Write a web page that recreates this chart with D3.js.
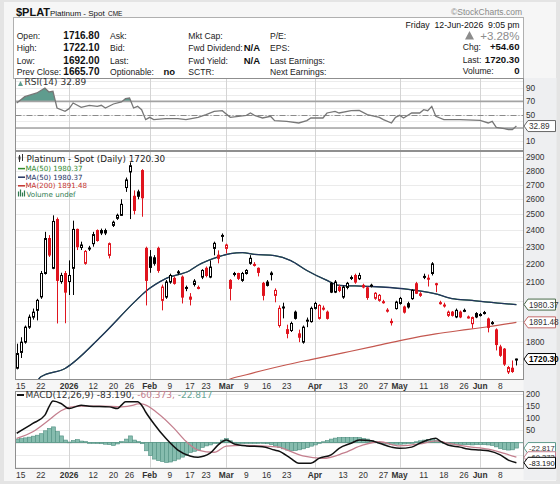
<!DOCTYPE html>
<html><head><meta charset="utf-8">
<script src="https://cdn.jsdelivr.net/npm/d3@7"></script>
<style>body{margin:0;background:#fff}svg{display:block}</style>
</head><body><svg id="c" width="560" height="484"></svg>
<script>
// ---------------- DATA ----------------
const dates = ["2025-12-12","2025-12-15","2025-12-16","2025-12-17","2025-12-18","2025-12-19","2025-12-22","2025-12-23","2025-12-24","2025-12-26","2025-12-29","2025-12-30","2025-12-31",
"2026-01-02","2026-01-05","2026-01-06","2026-01-07","2026-01-08","2026-01-09","2026-01-12","2026-01-13","2026-01-14","2026-01-15","2026-01-16","2026-01-20","2026-01-21","2026-01-22","2026-01-23","2026-01-26","2026-01-27","2026-01-28","2026-01-29","2026-01-30",
"2026-02-02","2026-02-03","2026-02-04","2026-02-05","2026-02-06","2026-02-09","2026-02-10","2026-02-11","2026-02-12","2026-02-13","2026-02-17","2026-02-18","2026-02-19","2026-02-20","2026-02-23","2026-02-24","2026-02-25","2026-02-26","2026-02-27",
"2026-03-02","2026-03-03","2026-03-04","2026-03-05","2026-03-06","2026-03-09","2026-03-10","2026-03-11","2026-03-12","2026-03-13","2026-03-16","2026-03-17","2026-03-18","2026-03-19","2026-03-20","2026-03-23","2026-03-24","2026-03-25","2026-03-26","2026-03-27","2026-03-30","2026-03-31",
"2026-04-01","2026-04-02","2026-04-06","2026-04-07","2026-04-08","2026-04-09","2026-04-10","2026-04-13","2026-04-14","2026-04-15","2026-04-16","2026-04-17","2026-04-20","2026-04-21","2026-04-22","2026-04-23","2026-04-24","2026-04-27","2026-04-28","2026-04-29","2026-04-30",
"2026-05-01","2026-05-04","2026-05-05","2026-05-06","2026-05-07","2026-05-08","2026-05-11","2026-05-12","2026-05-13","2026-05-14","2026-05-15","2026-05-18","2026-05-19","2026-05-20","2026-05-21","2026-05-22","2026-05-26","2026-05-27","2026-05-28","2026-05-29",
"2026-06-01","2026-06-02","2026-06-03","2026-06-04","2026-06-05","2026-06-08","2026-06-09","2026-06-10","2026-06-11","2026-06-12"];

const openP  = [1680,1750,1797,1868,1917,1951,2020,2146,2349,2175,2467,2102,2146,2102,2175,2405,2295,2203,2288,2318,2398,2398,2383,2249,2430,2475,2494,2680,2790,2620,2650,2800,2290,2240,2235,2290,2002,2019,2099,2119,2155,2126,2068,2019,2086,2070,2126,2175,2126,2290,2250,2365,2290,2108,2141,2146,2108,2146,2203,2197,2175,2092,2099,2148,2028,1876,1965,1856,1852,1942,1836,1797,1900,1895,1961,1911,1962,1942,2092,2045,2072,2019,2070,2120,2135,2117,2081,2068,2080,2013,2002,1995,1952,1890,1960,1986,1968,1985,2011,2090,2028,2130,2120,2146,2090,1990,1978,1926,1942,1918,1942,1950,1918,1885,1935,1928,1940,1908,1888,1855,1775,1765,1664,1680,1716.8];
const highP  = [1790,1820,1876,1930,1960,2010,2160,2390,2370,2494,2480,2150,2160,2220,2460,2410,2330,2280,2305,2390,2405,2410,2410,2325,2460,2505,2600,2750,2860,2660,2665,2810,2300,2280,2250,2300,2085,2110,2145,2130,2165,2135,2080,2040,2115,2080,2170,2185,2220,2330,2278,2380,2318,2115,2155,2150,2155,2170,2250,2210,2180,2100,2110,2158,2065,1976,1990,1880,1895,1950,1856,1876,1915,1970,1995,1982,1975,1950,2100,2110,2085,2080,2100,2135,2145,2150,2090,2075,2090,2045,2035,2005,1962,1910,2000,2020,1975,1995,2060,2100,2045,2145,2140,2210,2095,2000,1990,1950,1948,1960,1950,1960,1925,1920,1942,1938,1948,1915,1898,1862,1785,1770,1690,1714,1722.1];
const lowP   = [1675,1725,1790,1860,1905,1901,2010,2140,2240,2170,1886,2090,1887,2030,2030,2280,2280,2195,2275,2300,2330,2370,2370,2231,2420,2465,2490,2650,2470,2500,2600,2485,1976,2150,2190,2150,1951,2010,2090,2085,2140,1986,2050,1976,2075,2060,2115,2125,2120,2249,2203,2330,2260,2002,2130,2110,2100,2140,2195,2185,2130,2002,2075,2108,1992,1866,1911,1815,1845,1905,1797,1790,1868,1890,1955,1905,1950,1905,2040,2040,2045,2010,2060,2110,2090,2110,2065,2005,2070,2005,1995,1985,1940,1876,1955,1980,1935,1960,2005,2035,2020,2115,2075,2135,2045,1980,1965,1918,1920,1912,1912,1942,1910,1862,1912,1920,1930,1843,1880,1759,1730,1690,1655,1660,1692];
const closeP = [1745,1797,1868,1917,1942,2002,2146,2349,2251,2455,2108,2135,2045,2135,2405,2300,2310,2272,2292,2373,2337,2383,2398,2318,2450,2494,2566,2733,2835,2526,2620,2610,2108,2180,2203,2163,2072,2099,2135,2092,2150,2019,2070,2008,2104,2068,2163,2135,2182,2320,2232,2368,2310,2065,2146,2119,2146,2163,2232,2195,2152,2028,2081,2140,2054,1961,1968,1838,1886,1911,1820,1868,1902,1961,1986,1976,1960,1911,2045,2099,2054,2072,2092,2124,2099,2135,2072,2017,2082,2039,2028,1993,1950,1896,1993,2012,1942,1968,2054,2039,2036,2128,2115,2200,2088,1988,1976,1942,1926,1951,1918,1951,1917,1915,1918,1930,1936,1867,1890,1786,1737,1698,1683,1665.7,1720.3];

// indicator lines: position in dates[] and value
const ma50At  = [5,6,12,21,29,32,37,43,45,50,53,56,59,64,68,72,77,80,84,88,96,104,108,113,117,121,124];
const ma50Val = [1622,1643,1679,1825,1989,2049,2118,2163,2192,2240,2259,2265,2255,2247,2219,2163,2108,2081,2078,2075,2063,2036,2011,2002,1993,1985,1980.37];
const ma200At  = [51,53,57,61,67,73,81,88,96,104,112,117,124];
const ma200Val = [1622,1634,1652,1670,1695,1718,1748,1775,1808,1836,1857,1870,1891.48];

const rsiAt  = [0,2,5,7,8,9,10,12,13,14,16,18,20,21,22,24,26,27,28,29,30,31,32,33,34,37,40,42,45,47,49,51,53,55,57,58,59,61,63,64,67,70,72,73,76,77,79,80,83,85,87,90,91,93,94,95,96,98,100,101,102,103,104,106,110,115,117,118,119,121,122,123,124];
const rsiVal = [67.5,77,82.5,90,84,85,60,55,59,67.5,61,64,62.5,64,60,66,69,74,75,60,62.5,57.5,42.5,46,42.5,44,44,42.5,46,50,55,56,46,47.5,49,52.5,49,45,47.5,41,40,37.5,41,45,45,52.5,55,52.5,56,56.5,50,46,42.5,37.5,46,49,45,52.5,52.5,57.5,56,62.5,47.5,42.5,42.5,41.5,37.5,40,31,29,27.5,27.5,32.89];

const macdAt  = [0,4,7,8,9,11,13,16,18,23,25,26,27,30,31,32,34,37,40,43,45,48,50,52,54,57,61,64,65,68,70,73,75,78,80,83,85,88,90,93,95,98,100,102,104,105,107,110,112,115,117,120,122,124];
const macdVal = [38,78,112,146,170,160,139,153,149,146,139,153,167,167,153,125,78,17,-31,-55,-60,-44,-10,10,-6,-14,-17,-31,-35,-65,-85,-85,-65,-51,-24,-3,10,7,-3,-19,-24,-19,-3,10,17,7,-10,-19,-27,-31,-34,-51,-72,-83.19];
const sigAt  = [0,4,8,11,13,16,21,26,29,30,31,35,39,42,45,49,52,56,61,65,67,71,76,81,86,90,95,100,104,107,112,117,121,124];
const sigVal = [17,44,92,130,144,149,149,146,153,158,158,120,59,5,-31,-40,-15,-12,-14,-19,-30,-55,-65,-44,-10,3,-14,-6,7,-3,-17,-27,-45,-60.373];
const histVal = [14,16,19,22,26,30,36,48,58,64,45,27,10,2,8,12,6,4,-2,-3,-4,-5,-7,-9,-12,-6,4,14,27,10,4,-5,-34,-54,-68,-74,-78,-82,-80,-75,-68,-60,-54,-41,-36,-31,-20,-14,-10,-3,0,10,16,7,1,-1,-2,-2,-1,-2,-2,-3,-5,-9,-14,-20,-26,-31,-34,-33,-30,-26,-21,-15,-10,-3,3,8,14,18,20,21,21,20,21,20,17,14,9,5,1,-4,-6,-8,-7,-7,-6,-4,-1,3,7,10,13,15,10,4,-2,-6,-7,-8,-8,-9,-9,-10,-9,-9,-9,-10,-12,-18,-25,-29,-31,-30,-22.817];

const tickDates  = ["2025-12-15","2025-12-22","2026-01-02","2026-01-12","2026-01-20","2026-01-26","2026-02-02","2026-02-09","2026-02-17","2026-02-23","2026-03-02","2026-03-09","2026-03-16","2026-03-23","2026-04-01","2026-04-13","2026-04-20","2026-04-27","2026-05-01","2026-05-11","2026-05-18","2026-05-26","2026-06-01","2026-06-08"];
const tickLabels = ["15","22","2026","12","20","26","Feb","9","17","23","Mar","9","16","23","Apr","13","20","27","May","11","18","26","Jun","8"];
const priceTicks = [1700,1800,1900,2000,2100,2200,2300,2400,2500,2600,2700,2800,2900];
const rsiTicks = [10,30,50,70,90];
const macdTicks = [200,150,100,50,0,-50,-100];

const quoteLabels = [["Open:","High:","Low:","Prev Close:"],["Ask:","Bid:","Last:","Optionable:"],["Mkt Cap:","Fwd Dividend:","Fwd Yield:","SCTR:"],["P/E:","EPS:","Last Earnings:","Next Earnings:"]];
const quoteValues = [["1716.80","1722.10","1692.00","1665.70"],["","","","no"],["","N/A","N/A",""],["","","",""]];
const rightLabels = ["Chg:","Last:","Volume:"];
const rightValues = ["+54.60","1720.30","0"];

// ---------------- DRAW ----------------
const svg = d3.select("#c");
const FH = "'Liberation Sans', Arial, sans-serif";
const FV = "'DejaVu Sans', Verdana, sans-serif";
const L = 15.5, R = 523.5;
const P = {rsi:[78.5,150.5], main:[151.5,379.5], macd:[391.5,468.5]};

svg.append("rect").attr("width",560).attr("height",484).attr("fill","#e4e4e4");
svg.append("rect").attr("x",4).attr("y",2).attr("width",552).attr("height",479).attr("fill","#f6f6f6");
svg.append("rect").attr("x",R).attr("y",78).attr("width",33).attr("height",402).attr("fill","#eeeff1");

// header
svg.append("rect").attr("x",13.5).attr("y",17.5).attr("width",R-13.5).attr("height",61).attr("fill","#fff").attr("stroke","#b0b0b0");
svg.append("text").attr("x",16).attr("y",16).attr("font-family",FH).attr("font-weight","bold").attr("font-size",11).attr("fill","#111").text("$PLAT");
svg.append("text").attr("x",50).attr("y",16).attr("font-family",FH).attr("font-size",8).attr("fill","#111").text("Platinum - Spot");
svg.append("text").attr("x",108).attr("y",16).attr("font-family",FH).attr("font-size",6.5).attr("fill","#111").text("CME");
svg.append("text").attr("x",522).attr("y",14.5).attr("text-anchor","end").attr("font-family",FH).attr("font-size",8.5).attr("fill","#8a8a8a").text("\u00a9StockCharts.com");
svg.append("text").attr("x",519.5).attr("y",28).attr("text-anchor","end").attr("font-family",FH).attr("font-size",8.7).attr("fill","#111").attr("xml:space","preserve").text("Friday  12-Jun-2026  9:05 pm");
const rowY = [38.5,51,63.5,75];
const colX = [16.7,110,188.3,270];
const valX = [99.5,175,260,0];
quoteLabels.forEach((col,ci)=>col.forEach((t,ri)=>{
  svg.append("text").attr("x",colX[ci]).attr("y",rowY[ri]).attr("font-family",FH).attr("font-size",8.6).attr("fill","#222").text(t);
  const v = quoteValues[ci][ri];
  if (v) svg.append("text").attr("x",valX[ci]).attr("y",rowY[ri]).attr("text-anchor","end").attr("font-family",FH).attr("font-weight","bold").attr("font-size",ci===0?10:9.5).attr("fill","#111").text(v);
}));
svg.append("path").attr("d","M465,39.5 L469.5,31 L474,39.5 Z").attr("fill","#8c8c8c");
svg.append("text").attr("x",519.5).attr("y",39.5).attr("text-anchor","end").attr("font-family",FH).attr("font-size",11.5).attr("fill","#8c8c8c").text("+3.28%");
const rRowY = [50,62.5,74];
rightLabels.forEach((t,i)=>{
  svg.append("text").attr("x",462.7).attr("y",rRowY[i]).attr("font-family",FH).attr("font-size",8.6).attr("fill","#222").text(t);
  svg.append("text").attr("x",519.5).attr("y",rRowY[i]).attr("text-anchor","end").attr("font-family",FH).attr("font-weight","bold").attr("font-size",9.6).attr("fill","#111").text(rightValues[i]);
});

// scales
const x = d3.scalePoint().domain(dates).range([16.7,516.4]);
const yP = d3.scaleLog().domain([1631.7,2941.5]).range([P.main[1],P.main[0]]);
const yR = d3.scaleLinear().domain([10,90]).range([141.3,88]);
const yM = d3.scaleLinear().domain([0,200]).range([442.5,393.7]);
const monthDates = tickDates.filter((d,i)=>isNaN(+tickLabels[i]) || tickLabels[i].length===4);

const defs = svg.append("defs");
function panel(name, yr){
  svg.append("rect").attr("x",L).attr("y",yr[0]).attr("width",R-L).attr("height",yr[1]-yr[0]).attr("fill","#fff");
  defs.append("clipPath").attr("id","clip-"+name).append("rect").attr("x",L).attr("y",yr[0]).attr("width",R-L).attr("height",yr[1]-yr[0]);
  return svg.append("g").attr("clip-path","url(#clip-"+name+")");
}
function frame(yr){
  svg.append("rect").attr("x",L).attr("y",yr[0]).attr("width",R-L).attr("height",yr[1]-yr[0]).attr("fill","none").attr("stroke","#8f8f8f").attr("stroke-width",1);
}
function vgrid(g, yr){
  monthDates.forEach(d=>{
    const xx = Math.round(x(d))+0.5;
    g.append("line").attr("x1",xx).attr("x2",xx).attr("y1",yr[0]).attr("y2",yr[1]).attr("stroke","#d4d4d4");
  });
}
// axis labels, skipping those covered by a value tag
function axisLabels(ticks, scale, tagYs){
  ticks.forEach(v=>{
    const yy = scale(v);
    if (tagYs.some(t=>Math.abs(t-yy) < 9)) return;
    svg.append("text").attr("x",526).attr("y",yy+3).attr("font-family",FH).attr("font-size",8.3).attr("fill","#333").text(v);
  });
}
function tag(yv, txt, stroke, bold, color, fs){
  const g = svg.append("g");
  g.append("path").attr("d",`M${R+0.5},${yv} L${R+4.5},${yv-5.5} H555.5 V${yv+5.5} H${R+4.5} Z`).attr("fill","#fff").attr("stroke",stroke).attr("stroke-width",1);
  g.append("text").attr("x",R+5.5).attr("y",yv+3).attr("font-family",FH).attr("font-size",fs||8.2).attr("font-weight",bold?"bold":"normal").attr("fill",color||"#222").text(txt);
}

// ---- RSI panel
const gR = panel("rsi", P.rsi);
d3.range(0,101,10).forEach(v=>{
  const yy = Math.round(yR(v))+0.5;
  gR.append("line").attr("x1",L).attr("x2",R).attr("y1",yy).attr("y2",yy).attr("stroke","#ececec");
});
vgrid(gR, P.rsi);
const rsiPts = rsiAt.map((p,i)=>[x(dates[p]), yR(rsiVal[i])]);
defs.append("clipPath").attr("id","rsiHi").append("rect").attr("x",L).attr("y",P.rsi[0]).attr("width",R-L).attr("height",yR(70)-P.rsi[0]);
defs.append("clipPath").attr("id","rsiLo").append("rect").attr("x",L).attr("y",yR(30)).attr("width",R-L).attr("height",P.rsi[1]-yR(30));
gR.append("path").attr("clip-path","url(#rsiHi)").attr("d",d3.area().x(d=>d[0]).y0(yR(70)).y1(d=>d[1])(rsiPts)).attr("fill","#5f9c8e");
gR.append("path").attr("clip-path","url(#rsiLo)").attr("d",d3.area().x(d=>d[0]).y0(yR(30)).y1(d=>d[1])(rsiPts)).attr("fill","#8797a6");
[70,30].forEach(v=>{ const yy=yR(v); gR.append("line").attr("x1",L).attr("x2",R).attr("y1",yy).attr("y2",yy).attr("stroke","#a3a3a3").attr("stroke-width",1.6); });
gR.append("line").attr("x1",L).attr("x2",R).attr("y1",Math.round(yR(50))+0.5).attr("y2",Math.round(yR(50))+0.5).attr("stroke","#8a8a8a").attr("stroke-dasharray","6,2,1,2");
gR.append("path").attr("d",d3.line()(rsiPts)).attr("fill","none").attr("stroke","#777").attr("stroke-width",1.3);
frame(P.rsi);
axisLabels(rsiTicks, yR, [yR(32.89)]);
tag(yR(32.89),"32.89","#666",false,"#333");
svg.append("path").attr("d","M18,86 L20.5,81 L23,86 Z").attr("fill","#5f9c8e");
svg.append("text").attr("x",24.5).attr("y",85).attr("font-family",FV).attr("font-size",9).attr("fill","#333").text("RSI(14) 32.89");

// ---- Main panel
const gM = panel("main", P.main);
priceTicks.forEach(v=>{
  const yy = Math.round(yP(v))+0.5;
  gM.append("line").attr("x1",L).attr("x2",R).attr("y1",yy).attr("y2",yy).attr("stroke","#ebebeb");
});
vgrid(gM, P.main);
const lineM = d3.line().curve(d3.curveMonotoneX);
gM.append("path").attr("d",lineM(ma200At.map((p,i)=>[x(dates[p]),yP(ma200Val[i])]))).attr("fill","none").attr("stroke","#c4574f").attr("stroke-width",1.2);
gM.append("path").attr("d",lineM(ma50At.map((p,i)=>[x(dates[p]),yP(ma50Val[i])]))).attr("fill","none").attr("stroke","#3a8c3a").attr("stroke-width",1.2);
gM.append("path").attr("d",lineM(ma50At.map((p,i)=>[x(dates[p]),yP(ma50Val[i])]))).attr("fill","none").attr("stroke","#23345f").attr("stroke-width",1.3);
dates.forEach((d,i)=>{
  const o=openP[i], h=highP[i], l=lowP[i], c=closeP[i];
  const up = i===0 ? true : c >= closeP[i-1];
  const col = up ? "#000" : "#e0141e";
  const r = Math.round(x(d));
  gM.append("line").attr("x1",r+0.5).attr("x2",r+0.5).attr("y1",yP(h)).attr("y2",yP(l)).attr("stroke",col).attr("stroke-width",1);
  const top = yP(Math.max(o,c)), bot = yP(Math.min(o,c));
  const hgt = Math.max(1, bot-top);
  if (c > o) {
    gM.append("rect").attr("x",r-0.5).attr("y",top).attr("width",2).attr("height",hgt).attr("fill","#fff").attr("stroke",col).attr("stroke-width",1);
  } else {
    gM.append("rect").attr("x",r-1).attr("y",top-0.5).attr("width",3).attr("height",hgt+1).attr("fill",col);
  }
});
frame(P.main);
const mainTags = [1980.37,1891.48,1720.3].map(v=>yP(v));
axisLabels(priceTicks, yP, mainTags);
tag(yP(1980.37),"1980.37","#4a6a4a",false,"#333");
tag(yP(1891.48),"1891.48","#c46a6a",false,"#333");
tag(yP(1720.3),"1720.30","#000",true,"#000");

// legend main
const lg = svg.append("g").attr("font-family",FV);
lg.append("path").attr("d","M19.5,155 V162 M22.5,154 V161").attr("stroke","#333").attr("stroke-width",1);
lg.append("rect").attr("x",18.5).attr("y",156.5).attr("width",2).attr("height",3).attr("fill","#333");
lg.append("text").attr("x",26.5).attr("y",161.8).attr("font-size",8.8).attr("fill","#222").text("Platinum - Spot (Daily) 1720.30");
const legRows = [["MA(50) 1980.37","#2f8a2f"],["MA(50) 1980.37","#23345f"],["MA(200) 1891.48","#c4342f"]];
legRows.forEach((r,i)=>{
  const yy = 168.6 + i*8.6;
  lg.append("line").attr("x1",18).attr("x2",25).attr("y1",yy).attr("y2",yy).attr("stroke",r[1]).attr("stroke-width",1.5);
  lg.append("text").attr("x",25.5).attr("y",yy+2.5).attr("font-size",7.1).attr("fill",r[1]).text(r[0]);
});
lg.append("path").attr("d","M18.5,196.5 V191.5 M20.5,196.5 V189.5 M22.5,196.5 V192.5 M24.5,196.5 V190.5").attr("stroke","#2f7a4f").attr("stroke-width",1.2);
lg.append("text").attr("x",26.5).attr("y",196.5).attr("font-size",7.1).attr("fill","#2f7a4f").text("Volume undef");

// x-axis labels
function xLabels(yb){
  tickDates.forEach((d,i)=>{
    const isMonth = isNaN(+tickLabels[i]) || tickLabels[i].length===4;
    svg.append("text").attr("x",x(d)).attr("y",yb).attr("text-anchor","middle").attr("font-family",FH).attr("font-size",8.4)
      .attr("font-weight",isMonth?"bold":"normal").attr("fill","#333").text(tickLabels[i]);
  });
}
xLabels(388.5);

// ---- MACD panel
const gC = panel("macd", P.macd);
macdTicks.forEach(v=>{
  const yy = Math.round(yM(v))+0.5;
  gC.append("line").attr("x1",L).attr("x2",R).attr("y1",yy).attr("y2",yy).attr("stroke","#ececec");
});
vgrid(gC, P.macd);
dates.forEach((d,i)=>{
  const v = histVal[i];
  const r = Math.round(x(d));
  const y0 = yM(0), y1 = yM(v);
  gC.append("rect").attr("x",r-1.5).attr("y",Math.min(y0,y1)).attr("width",4).attr("height",Math.max(0.8,Math.abs(y1-y0)))
    .attr("fill","#86bcae").attr("stroke","#4f8f80").attr("stroke-width",0.6);
});
gC.append("line").attr("x1",L).attr("x2",R).attr("y1",yM(0)).attr("y2",yM(0)).attr("stroke","#5e9a8b").attr("stroke-width",0.8);
gC.append("path").attr("d",lineM(sigAt.map((p,i)=>[x(dates[p]),yM(sigVal[i])]))).attr("fill","none").attr("stroke","#c47f8e").attr("stroke-width",1.3);
gC.append("path").attr("d",lineM(macdAt.map((p,i)=>[x(dates[p]),yM(macdVal[i])]))).attr("fill","none").attr("stroke","#111").attr("stroke-width",1.5);
frame(P.macd);
const macdTags = [-22.817,-60.373,-83.19].map(v=>yM(v));
axisLabels(macdTicks, yM, macdTags);
tag(yM(-22.817),"-22.817","#5e9a8b",false,"#333",7.6);
tag(yM(-60.373),"-60.373","#c47f8e",false,"#333",7.6);
tag(yM(-83.19),"-83.190","#000",false,"#111",7.6);
svg.append("line").attr("x1",17).attr("x2",24).attr("y1",395).attr("y2",395).attr("stroke","#111").attr("stroke-width",2);
const ml = svg.append("text").attr("x",25.5).attr("y",398).attr("font-family",FV).attr("font-size",9).attr("xml:space","preserve");
ml.append("tspan").attr("fill","#333").text("MACD(12,26,9) -83.190, ");
ml.append("tspan").attr("fill","#c47f8e").text("-60.373, ");
ml.append("tspan").attr("fill","#6aa595").text("-22.817");
xLabels(478);
</script></body></html>
